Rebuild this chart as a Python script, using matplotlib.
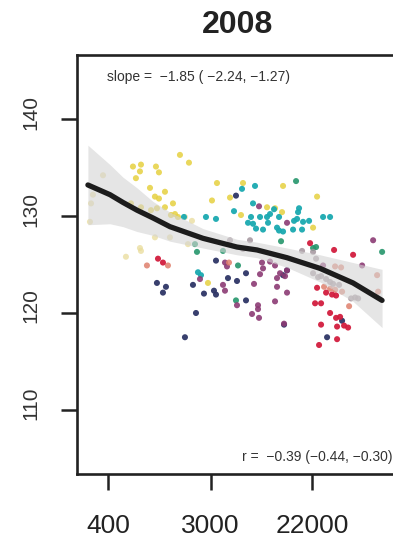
import numpy as np
import matplotlib
matplotlib.use("Agg")
import matplotlib.pyplot as plt
from matplotlib.ticker import FixedLocator, NullLocator, FixedFormatter
from matplotlib.transforms import ScaledTranslation

plt.rcParams['font.family'] = ['Liberation Sans', 'DejaVu Sans']

title = "2008"
slope_text = "slope =  \u22121.85 ( \u22122.24, \u22121.27)"
r_text = "r =  \u22120.39 (\u22120.44, \u22120.30)"

xticks = [400, 3000, 22000]
xticklabels = ["400", "3000", "22000"]
yticks = [110, 120, 130, 140]
yticklabels = ["110", "120", "130", "140"]

# groups of points: x (GDP-like, log scale), y
yellow_x = [1641, 1958, 653, 764, 749, 1025, 1087, 692, 3391, 5649, 12385, 912, 1223, 1005, 1087,
            1431, 628, 764, 930, 1045, 1223, 1376, 1488, 1578, 3075, 4377, 9047, 10585, 12143,
            5431, 24134, 22314, 2842]
yellow_y = [136.3, 135.5, 135.1, 135.3, 134.6, 135.1, 134.5, 133.9, 133.4, 133.4, 133.1, 132.9, 132.5,
            132.0, 131.8, 131.3, 131.3, 130.9, 130.6, 130.8, 130.9, 130.1, 130.2, 129.9, 131.6, 131.9,
            130.9, 130.8, 130.4, 130.1, 132.0, 128.8, 123.1]

beige_x = [363, 298, 287, 281, 1005, 1349, 749, 569, 764, 1810, 2077, 1920]
beige_y = [134.2, 132.2, 131.3, 129.4, 127.8, 127.8, 126.7, 125.8, 126.4, 129.9, 129.5, 127.1]

teal_x = [5539, 7149, 6874, 10380, 9596, 16952, 16620, 4734, 2733, 3326, 6609, 7886, 9047, 11449,
          15369, 16300, 18335, 20629, 27150, 31147, 6232, 6874, 9226, 11008, 11449, 7290, 8365,
          15071, 17980, 12385, 2337, 2478, 1775]
teal_y = [132.8, 133.1, 131.3, 130.7, 130.2, 130.8, 130.4, 130.5, 129.9, 129.7, 129.9, 129.9, 129.9,
          129.9, 129.5, 129.7, 129.4, 129.5, 129.9, 129.9, 129.3, 129.2, 129.3, 128.8, 128.5, 128.7,
          128.6, 128.6, 128.6, 128.4, 124.2, 123.9, 129.9]

green_x = [15983, 11907, 23665, 22314, 86400, 5121, 4923, 2203, 2291, 3815]
green_y = [133.6, 127.4, 126.8, 126.7, 126.3, 124.9, 121.3, 127.1, 126.3, 126.4]

navy_x = [4923, 1045, 1247, 1176, 1810, 3326, 2118, 4208, 5021, 5991, 3198, 3326, 2628, 5991,
          2247, 12385, 13391, 29366, 12630, 39400]
navy_y = [132.1, 123.1, 122.7, 122.1, 117.5, 125.4, 122.9, 123.6, 123.3, 124.1, 122.3, 121.9, 122.0,
          121.3, 120.0, 123.9, 124.4, 117.5, 118.8, 119.2]

purple_x = [7733, 13391, 72420, 3968, 4127, 2430, 3815, 7886, 8365, 8202, 9596, 10585, 11676,
            11008, 12880, 13391, 3968, 7010, 11008, 13391, 5021, 7582, 7582, 6741, 7733, 10585,
            12630, 58360, 27150]
purple_y = [131.0, 129.3, 127.5, 125.2, 124.8, 123.5, 122.9, 124.0, 124.6, 125.2, 125.3, 124.9,
            124.1, 123.6, 123.8, 124.4, 122.3, 123.0, 122.7, 122.1, 120.8, 120.8, 120.4, 119.9,
            119.5, 121.2, 118.9, 124.9, 124.9]

red_x = [21037, 33690, 48900, 1067, 1176, 24134, 28800, 32390, 35040, 23206, 26100, 31147, 35040,
         37900, 40990, 35730, 44340, 26100, 35730, 25100]
red_y = [127.2, 126.5, 126.0, 125.6, 125.2, 122.6, 122.1, 121.9, 121.8, 121.0, 121.0, 120.0, 119.5,
         119.6, 118.7, 118.6, 118.5, 118.8, 117.3, 116.7]

salmon_x = [859, 1297, 4292, 34358, 38650, 78330, 27690, 31147, 34358, 39420, 45220, 79880]
salmon_y = [124.9, 124.9, 125.2, 124.8, 124.7, 123.9, 122.7, 122.5, 122.4, 122.2, 120.7, 122.2]

grey_x = [17980, 22314, 23665, 24610, 22314, 26100, 28800, 31147, 33040, 37160, 47030, 50871,
          54000, 6481, 4377, 5649]
grey_y = [126.4, 126.3, 125.6, 123.7, 124.1, 123.8, 123.5, 123.2, 123.0, 122.9, 121.5, 121.6,
          121.5, 127.5, 127.5, 126.6]

# smoothed fit and its confidence band
curve_x = [270, 416, 537, 707, 967, 1349, 2577, 5020, 7430, 13390, 25570, 48830, 86300]
curve_y = [133.2, 132.2, 131.4, 130.6, 129.8, 128.9, 127.7, 126.8, 126.5, 125.7, 124.6, 123.1, 121.3]
band_hi = [137.3, 135.3, 134.0, 132.9, 131.5, 130.4, 128.7, 127.6, 127.3, 126.7, 126.0, 125.2, 124.5]
band_lo = [129.1, 129.2, 128.9, 128.4, 128.0, 127.4, 126.7, 126.0, 125.7, 124.7, 123.2, 121.2, 118.5]

groups = [
    (beige_x, beige_y, "#e9dc9a", 0.75),
    (yellow_x, yellow_y, "#e6d03f", 0.85),
    (teal_x, teal_y, "#1aa9b0", 0.95),
    (green_x, green_y, "#25966c", 0.9),
    (navy_x, navy_y, "#2e3566", 0.95),
    (purple_x, purple_y, "#8c3b74", 0.9),
    (salmon_x, salmon_y, "#df7f6c", 0.85),
    (grey_x, grey_y, "#a3949c", 0.85),
    (red_x, red_y, "#d21d3e", 0.95),
]

fig = plt.figure(figsize=(3.93, 5.41), dpi=100)
ax = fig.add_axes([77 / 393, 1 - 474 / 541, (400 - 77) / 393, (474 - 55) / 541])

for gx, gy, col, a in groups:
    ax.scatter(gx, gy, s=19, color=col, alpha=a, edgecolors='none', zorder=2)

ax.fill_between(curve_x, band_lo, band_hi, color="#d4d4d4", alpha=0.6, linewidth=0, zorder=3)
ax.plot(curve_x, curve_y, color="#1c1c1c", linewidth=3.8, solid_capstyle='round', zorder=4)

ax.set_xscale('log')
ax.set_xlim(218, 122700)
ax.set_ylim(103.4, 146.6)

ax.xaxis.set_major_locator(FixedLocator(xticks))
ax.xaxis.set_major_formatter(FixedFormatter(xticklabels))
ax.xaxis.set_minor_locator(NullLocator())
ax.yaxis.set_major_locator(FixedLocator(yticks))
ax.yaxis.set_major_formatter(FixedFormatter(yticklabels))
ax.yaxis.set_minor_locator(NullLocator())

ax.tick_params(axis='x', direction='out', length=11.5, width=1.8, color="#222222",
               labelsize=19, labelcolor="#222222", pad=17)
ax.tick_params(axis='y', direction='out', length=11.5, width=1.8, color="#222222",
               labelsize=15, labelcolor="#333333", pad=15, labelrotation=90)

shift = ScaledTranslation(0, 7 / 100, fig.dpi_scale_trans)
for tick in ax.yaxis.get_major_ticks():
    tick.label1.set_va('center')
    tick.label1.set_transform(tick.label1.get_transform() + shift)

for side in ['left', 'bottom', 'top']:
    ax.spines[side].set_linewidth(1.9)
    ax.spines[side].set_color("#222222")
ax.spines['right'].set_visible(False)

ax.text((107 - 77) / 323, (474 - 77) / 419, slope_text, transform=ax.transAxes,
        fontsize=10, color="#333333", ha='left', va='center')
ax.text((392 - 77) / 323, (474 - 457) / 419, r_text, transform=ax.transAxes,
        fontsize=10, color="#333333", ha='right', va='center')

fig.text(238 / 393, 1 - 25 / 541, title, fontsize=23, fontweight='bold', color="#222222",
         ha='center', va='center')

fig.savefig("out.png", dpi=100, facecolor='white')
